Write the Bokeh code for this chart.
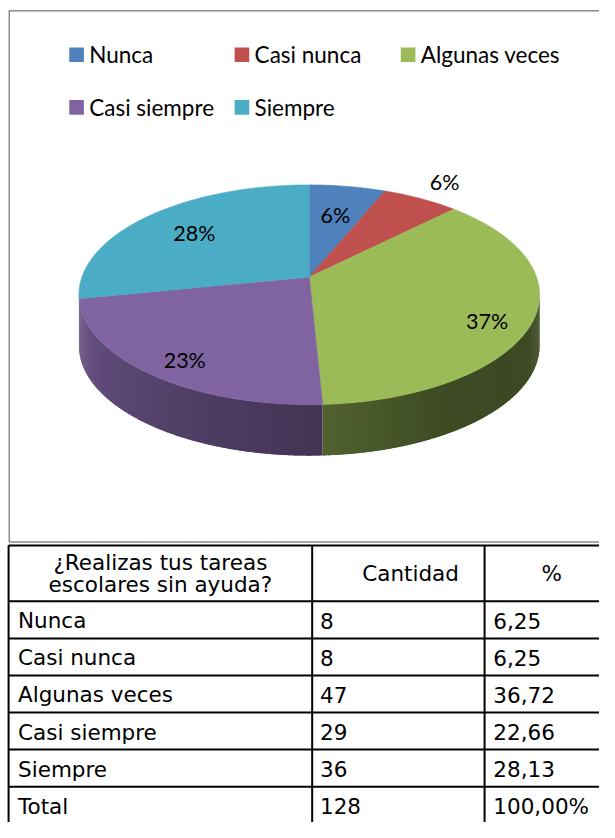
import math
from bokeh.plotting import figure
from bokeh.models import Range1d
from bokeh.core.properties import value
from bokeh.embed import file_html
from bokeh.resources import INLINE

# ---------------- data ----------------
categories = ["Nunca", "Casi nunca", "Algunas veces", "Casi siempre", "Siempre"]
cantidad = [8, 8, 47, 29, 36]
porcentaje = [6.25, 6.25, 36.72, 22.66, 28.13]
colors = ["#4f81bd", "#c0504d", "#9bbb59", "#8064a2", "#4bacc6"]
header_q = ["¿Realizas tus tareas", "escolares sin ayuda?"]
header_cols = ["Cantidad", "%"]
total_label = "Total"
total_pct = "100,00%"

# ---------------- layout constants (reference pixel space) ----------------
W, H = 599, 822
CX, CY = 317.0, 282.0          # apex of the pie (projected centre)
A, B, K = 233.4, 109.1, 0.1607  # perspective projection of the pie disc
DEPTH = 52.0
LABEL_R = [0.65, 1.25, 0.8, 0.8, 0.7]
LABEL_DY = [0, 0, 12, 8, 0]
LABEL_FONT = "Lato"
TABLE_FONT = "DejaVu Sans"

p = figure(width=W, height=H, x_range=Range1d(0, 615), y_range=Range1d(838, 0),
           output_backend="svg", toolbar_location=None, min_border=0,
           x_axis_location=None, y_axis_location=None)
p.grid.visible = False
p.outline_line_color = None
p.background_fill_color = "white"


def proj(theta, r=1.0):
    t = math.radians(theta)
    u, v = r * math.sin(t), r * math.cos(t)
    den = 1 + K * v
    return CX + A * u / den, CY - B * v / den


def shade(hexcol, f):
    h = hexcol.lstrip("#")
    rgb = [int(h[i:i + 2], 16) for i in (0, 2, 4)]
    return "#%02x%02x%02x" % tuple(max(0, min(255, int(round(c * f)))) for c in rgb)


SHADE_PTS = [(99, 0.38), (150, 0.40), (177, 0.52), (210, 0.64), (261, 0.84)]


def side_factor(th):
    for (a0, f0), (a1, f1) in zip(SHADE_PTS[:-1], SHADE_PTS[1:]):
        if a0 <= th <= a1:
            return f0 + (f1 - f0) * (th - a0) / (a1 - a0)
    return SHADE_PTS[0][1] if th < SHADE_PTS[0][0] else SHADE_PTS[-1][1]


# chart box
p.quad(left=[9], right=[640], top=[10.5], bottom=[552], fill_color=None,
       line_color="#8a8a8a", line_width=1.5)

# slice angles (clockwise from 12 o'clock)
total = sum(cantidad)
starts, ends = [], []
acc = 0.0
for c in cantidad:
    starts.append(acc / total * 360.0)
    acc += c
    ends.append(acc / total * 360.0)

# visible side of the pie, drawn as overlapping thin strips (gradient)
th_r = math.degrees(math.acos(-K))          # right extreme
th_l = 360.0 - th_r                          # left extreme
STEP = 0.5
sx, sy, sc = [], [], []
for i in range(len(cantidad)):
    a0, a1 = max(starts[i], th_r), min(ends[i], th_l)
    if a1 <= a0:
        continue
    n = max(1, int(math.ceil((a1 - a0) / STEP)))
    for j in range(n):
        t0 = a0 + (a1 - a0) * j / n
        t1 = min(a1, a0 + (a1 - a0) * (j + 1.8) / n)
        pts = [proj(t0 + (t1 - t0) * q / 3) for q in range(4)]
        xs = [pt[0] for pt in pts] + [pt[0] for pt in reversed(pts)]
        ys = [pt[1] for pt in pts] + [pt[1] + DEPTH for pt in reversed(pts)]
        sx.append(xs)
        sy.append(ys)
        sc.append(shade(colors[i], side_factor(a0 + (a1 - a0) * (j + 0.5) / n)))
p.patches(sx, sy, fill_color=sc, line_color=None)

# top face
tx, ty = [], []
for i in range(len(cantidad)):
    n = max(4, int((ends[i] - starts[i]) / 1.0))
    xs, ys = [CX], [CY]
    for j in range(n + 1):
        x, y = proj(starts[i] + (ends[i] - starts[i]) * j / n)
        xs.append(x)
        ys.append(y)
    tx.append(xs)
    ty.append(ys)
p.patches(tx, ty, fill_color=colors, line_color=colors, line_width=0.6)

# data labels
lx, ly, lt = [], [], []
for i in range(len(cantidad)):
    mid = (starts[i] + ends[i]) / 2
    x, y = proj(mid, LABEL_R[i])
    lx.append(x)
    ly.append(y + LABEL_DY[i])
    lt.append("%d%%" % round(porcentaje[i]))
p.text(lx, ly, text=lt, text_align="center", text_baseline="middle",
       text_font=value(LABEL_FONT), text_font_size="21.5px", text_color="black")

# legend
LEG_X = [70.6, 240.4, 411.0]
LEG_Y = [55.3, 109.0]
SQ = 15.0
qx0, qx1, qy0, qy1, gx, gy = [], [], [], [], [], []
for i, name in enumerate(categories):
    cx = LEG_X[i % 3]
    cy = LEG_Y[i // 3]
    qx0.append(cx)
    qx1.append(cx + SQ)
    qy0.append(cy - SQ / 2)
    qy1.append(cy + SQ / 2)
    gx.append(cx + SQ + 5.5)
    gy.append(cy)
p.quad(left=qx0, right=qx1, top=qy0, bottom=qy1, fill_color=colors, line_color=None)
p.text(gx, gy, text=categories, text_align="left", text_baseline="middle",
       text_font=value(LABEL_FONT), text_font_size="22.5px", text_color="black")

# table
COL_X = [8.3, 320.0, 497.0, 640.0]
ROW0, HEAD_H, ROW_H = 555.5, 57.0, 37.8
n_rows = len(categories) + 1
row_y = [ROW0, ROW0 + HEAD_H] + [ROW0 + HEAD_H + ROW_H * k for k in range(1, n_rows + 1)]
hx0 = [COL_X[0]] * (n_rows + 1)
hx1 = [COL_X[-1]] * (n_rows + 1)
p.segment(x0=hx0, y0=row_y[:n_rows + 1], x1=hx1, y1=row_y[:n_rows + 1],
          line_color="black", line_width=2)
p.segment(x0=COL_X[:3], y0=[ROW0] * 3, x1=COL_X[:3], y1=[900] * 3,
          line_color="black", line_width=2)

head_mid = ROW0 + HEAD_H / 2
p.text([(COL_X[0] + COL_X[1]) / 2] * 2, [head_mid - 11.5, head_mid + 11.5], text=header_q,
       text_align="center", text_baseline="middle", text_font=value(TABLE_FONT),
       text_font_size="21.5px", text_color="black")
p.text([421.0, 566.0], [head_mid, head_mid], text=header_cols,
       text_align="center", text_baseline="middle", text_font=value(TABLE_FONT),
       text_font_size="21.5px", text_color="black")

col1 = categories + [total_label]
col2 = [str(c) for c in cantidad] + [str(total)]
col3 = [("%.2f" % v).replace(".", ",") for v in porcentaje] + [total_pct]
cy_rows = [(row_y[k + 1] + row_y[k + 2]) / 2 + 1.0 for k in range(n_rows)]
for xpos, col in zip([18.0, 328.0, 506.0], [col1, col2, col3]):
    p.text([xpos] * n_rows, cy_rows, text=col, text_align="left", text_baseline="middle",
           text_font=value(TABLE_FONT), text_font_size="21.5px", text_color="black")

open("out.html", "w").write(file_html(p, INLINE))
